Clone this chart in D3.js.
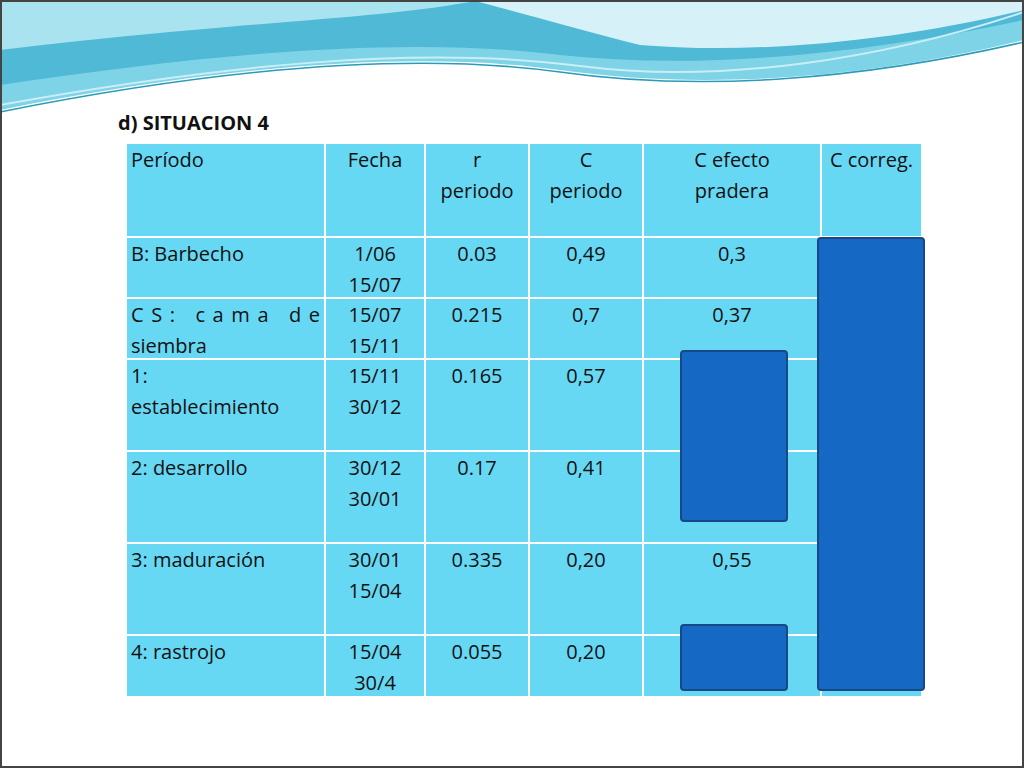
<!DOCTYPE html>
<html><head><meta charset="utf-8">
<script src="https://cdn.jsdelivr.net/npm/d3@7"></script>
<style>body{margin:0;background:#fff}svg{display:block}</style></head>
<body><svg id="s" width="1024" height="768"></svg>
<script>
const headers = [["Período"],["Fecha"],["r","periodo"],["C","periodo"],["C efecto","pradera"],["C correg."]];
const periodo = [["B: Barbecho"],["CS:   cama   de","siembra"],["1:","establecimiento"],["2: desarrollo"],["3: maduración"],["4: rastrojo"]];
const fecha = [["1/06","15/07"],["15/07","15/11"],["15/11","30/12"],["30/12","30/01"],["30/01","15/04"],["15/04","30/4"]];
const rPer = ["0.03","0.215","0.165","0.17","0.335","0.055"];
const cPer = ["0,49","0,7","0,57","0,41","0,20","0,20"];
const cEfecto = ["0,3","0,37","","","0,55",""];
const title = "d) SITUACION 4";

const svg = d3.select("#s");
// background decoration
svg.append("rect").attr("x",0).attr("y",0).attr("width",1024).attr("height",768).attr("fill","#fff");
const g0 = svg.append("g");
g0.append("path").attr("d","M0,0 H1024 V40 C860,80 700,90 560,70 C400,48 200,70 0,110 Z").attr("fill","#7fd3e6");
g0.append("path").attr("d","M0,0 H1024 V20 C860,55 700,70 560,55 C400,35 200,55 0,85 Z").attr("fill","#4fb9d6");
g0.append("path").attr("d","M0,0 H480 C380,20 250,20 0,50 Z").attr("fill","#a9e3ef");
g0.append("path").attr("d","M470,0 H1024 V10 C900,40 760,55 640,45 C580,30 520,12 470,0 Z").attr("fill","#d6f2f8");
g0.append("path").attr("d","M0,112 C200,72 400,50 560,72 C700,92 860,80 1024,42").attr("fill","none").attr("stroke","#2a9bb8").attr("stroke-width",1.5);
g0.append("path").attr("d","M0,105 C220,65 420,45 580,66 C720,84 880,60 1024,12").attr("fill","none").attr("stroke","#c9eef6").attr("stroke-width",2);
svg.append("rect").attr("x",1).attr("y",1).attr("width",1022).attr("height",766).attr("fill","none").attr("stroke","#444").attr("stroke-width",2);

svg.append("text").attr("x",118).attr("y",130).text(title).attr("font-family","Open Sans, sans-serif").attr("font-size",20).attr("font-weight","bold").attr("fill","#111");

const colEdges = [126,325,425,529,643,821,922];
const rowEdges = [143,237,298,359,451,543,635,697];
const x = d3.scaleOrdinal().domain(d3.range(6)).range(colEdges.slice(0,6));
const rows = [headers].concat(d3.range(6).map(i=>[periodo[i],fecha[i],[rPer[i]],[cPer[i]],[cEfecto[i]],[""]]));
const g = svg.append("g").attr("font-family","Open Sans, sans-serif").attr("font-size",20).attr("fill","#111");
rows.forEach((row,ri)=>{
  row.forEach((lines,ci)=>{
    const x0=colEdges[ci], x1=colEdges[ci+1], y0=rowEdges[ri], y1=rowEdges[ri+1];
    g.append("rect").attr("x",x0).attr("y",y0).attr("width",x1-x0).attr("height",y1-y0).attr("fill","#67d8f4").attr("stroke","#fff").attr("stroke-width",2);
    lines.forEach((t,li)=>{
      if(!t) return;
      const left = ci===0;
      const tx = g.append("text").attr("x",left?x0+5:(x0+x1)/2).attr("y",y0+24+li*31).attr("text-anchor",left?"start":"middle").attr("fill","#111").text(t);
      if(ri===2&&ci===0&&li===0) tx.attr("textLength",x1-x0-10).attr("lengthAdjust","spacing");
    });
  });
});
const blocks = [[818,238,924,690],[681,351,787,521],[681,625,787,690]];
svg.selectAll(".b").data(blocks).enter().append("rect").attr("x",d=>d[0]).attr("y",d=>d[1]).attr("width",d=>d[2]-d[0]).attr("height",d=>d[3]-d[1]).attr("rx",3).attr("fill","#1569c4").attr("stroke","#174a85").attr("stroke-width",2);
</script></body></html>
